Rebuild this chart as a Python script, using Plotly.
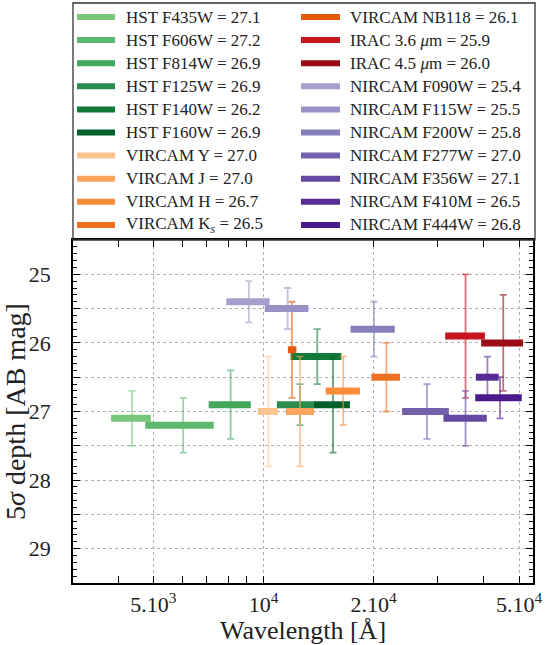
import plotly.graph_objects as go

# Filter names and 5-sigma depths (AB mag)
names = ["HST F435W", "HST F606W", "HST F814W", "HST F125W", "HST F140W", "HST F160W",
         "VIRCAM Y", "VIRCAM J", "VIRCAM H", "VIRCAM K<sub><i>s</i></sub>",
         "VIRCAM NB118", "IRAC 3.6 <i>μ</i>m", "IRAC 4.5 <i>μ</i>m",
         "NIRCAM F090W", "NIRCAM F115W", "NIRCAM F200W", "NIRCAM F277W",
         "NIRCAM F356W", "NIRCAM F410M", "NIRCAM F444W"]
depth = [27.1, 27.2, 26.9, 26.9, 26.2, 26.9,
         27.0, 27.0, 26.7, 26.5,
         26.1, 25.9, 26.0,
         25.4, 25.5, 25.8, 27.0, 27.1, 26.5, 26.8]
depth_err = [0.4, 0.4, 0.5, 0.3, 0.4, 0.7,
             0.8, 0.8, 0.5, 0.5,
             0.7, 0.9, 0.7,
             0.3, 0.3, 0.4, 0.4, 0.4, 0.3, 0.3]

# Filter wavelength coverage (Angstrom): blue edge, red edge, pivot
wave_lo = [3830, 4750, 7080, 10880, 11860, 13740,
           9650, 11510, 14790, 19730,
           11660, 31390, 39380,
           7910, 10080, 17300, 23930, 31050, 38090, 37930]
wave_hi = [4920, 7310, 9230, 13740, 16330, 17230,
           10950, 13740, 18360, 23620,
           12300, 40320, 51240,
           10390, 13260, 22850, 32130, 40800, 43970, 50830]
wave_pivot = [4370, 6030, 8130, 12580, 14030, 15490,
              10320, 12580, 16520, 21680,
              11960, 35690, 45250,
              9120, 11640, 20050, 27990, 35690, 40960, 44330]

colors = ["#78c679", "#5cb86a", "#41a85c", "#2a8c4f", "#117a38", "#00602b",
          "#fdc48f", "#fda45d", "#fd8c3b", "#f07021",
          "#e55a0d", "#c8141e", "#9a0d14",
          "#a59fcc", "#9892c6", "#8580bb", "#7461ab", "#65489f", "#572d95", "#4b1a8a"]

x_tick_vals = [5000, 10000, 20000, 50000]
x_tick_text = ["5.10<sup>3</sup>", "10<sup>4</sup>", "2.10<sup>4</sup>", "5.10<sup>4</sup>"]
x_minor_vals = [3000, 4000, 6000, 7000, 8000, 9000, 30000, 40000]
y_tick_vals = [25, 26, 27, 28, 29]
y_half_vals = [25.5, 26.5, 27.5, 28.5, 29.5]
y_range = [29.5, 24.5]

FONT = "Liberation Serif"
TEXT_COL = "#222"

# figure geometry (px)
W, H = 548, 645
ML, MR, MT, MB = 73, 15, 240, 62
PW, PH = W - ML - MR, H - MT - MB


def rgba(hex_color, alpha):
    h = hex_color.lstrip("#")
    r, g, b = int(h[0:2], 16), int(h[2:4], 16), int(h[4:6], 16)
    return f"rgba({r},{g},{b},{alpha})"


def px_to_paper(px, py):
    return (px - ML) / PW, 1 + (MT - py) / PH


fig = go.Figure()
for i, name in enumerate(names):
    col = colors[i]
    # vertical uncertainty on the depth
    fig.add_trace(go.Scatter(
        x=[wave_pivot[i]], y=[depth[i]], mode="markers",
        marker=dict(color="rgba(0,0,0,0)", size=1),
        error_y=dict(type="data", array=[depth_err[i]], color=rgba(col, 0.6),
                     thickness=1.8, width=3.5),
        showlegend=False, hoverinfo="skip"))
    # horizontal bar spanning the filter band
    fig.add_trace(go.Scatter(
        x=[wave_lo[i], wave_hi[i]], y=[depth[i], depth[i]], mode="lines",
        line=dict(color=col, width=7),
        name=f"{name} = {depth[i]:.1f}", showlegend=False))

# carrier for the overlaid minor-tick axis
fig.add_trace(go.Scatter(x=[None], y=[None], yaxis="y2", showlegend=False,
                         hoverinfo="skip"))

# two-column key above the axes, framed by a box
shapes = []
annotations = []
n_rows = 10
col_x = [(77, 115, 124), (301, 340, 348)]   # swatch start, swatch end, text start
row_y0, row_dy = 17, 23.1
for i, name in enumerate(names):
    c, r = divmod(i, n_rows)
    sx0, sx1, tx = col_x[c]
    yy = row_y0 + r * row_dy
    x0p, yp = px_to_paper(sx0, yy)
    x1p, _ = px_to_paper(sx1, yy)
    txp, _ = px_to_paper(tx, yy)
    shapes.append(dict(type="line", xref="paper", yref="paper", x0=x0p, x1=x1p,
                       y0=yp, y1=yp, line=dict(color=colors[i], width=6)))
    annotations.append(dict(xref="paper", yref="paper", x=txp, y=yp,
                            xanchor="left", yanchor="middle", showarrow=False,
                            text=f"{name} = {depth[i]:.1f}",
                            font=dict(family=FONT, size=17, color=TEXT_COL)))
bx0, by0 = px_to_paper(73, 240)
bx1, by1 = px_to_paper(535, 3)
shapes.append(dict(type="rect", xref="paper", yref="paper", x0=bx0, x1=bx1,
                   y0=by0, y1=by1, line=dict(color="#333", width=1.3)))

grid_style = dict(gridcolor="#b0b0b0", griddash="dot", gridwidth=1)

fig.update_layout(
    width=W, height=H,
    margin=dict(l=ML, r=MR, t=MT, b=MB, autoexpand=False),
    paper_bgcolor="white", plot_bgcolor="white",
    font=dict(family=FONT, color=TEXT_COL),
    showlegend=False,
    shapes=shapes, annotations=annotations,
    xaxis=dict(
        type="log", range=[3.479, 4.737], automargin=False,
        tickvals=x_tick_vals, ticktext=x_tick_text,
        ticks="inside", ticklen=7, tickwidth=1, tickcolor="black",
        showline=True, linecolor="black", linewidth=1.5, mirror="allticks",
        showgrid=True, zeroline=False, **grid_style,
        minor=dict(tickvals=x_minor_vals, ticks="inside", ticklen=4,
                   tickcolor="black", showgrid=False),
        tickfont=dict(family=FONT, size=22, color=TEXT_COL),
        ticklabelstandoff=1,
        title=dict(text="Wavelength [Å]", font=dict(family=FONT, size=26, color=TEXT_COL),
                   standoff=0)),
    yaxis=dict(
        range=y_range, automargin=False,
        tickvals=y_tick_vals,
        ticks="inside", ticklen=7, tickwidth=1, tickcolor="black",
        showline=True, linecolor="black", linewidth=1.5, mirror="allticks",
        showgrid=True, zeroline=False, **grid_style,
        minor=dict(tickvals=y_half_vals, ticks="inside", ticklen=7,
                   tickcolor="black", showgrid=True, **grid_style),
        tickfont=dict(family=FONT, size=22, color=TEXT_COL),
        ticklabelstandoff=16,
        title=dict(text="5<i>σ</i> depth [AB mag]", font=dict(family=FONT, size=28, color=TEXT_COL),
                   standoff=4)),
    yaxis2=dict(
        overlaying="y", range=y_range, dtick=0.1, tick0=25, automargin=False,
        ticks="inside", ticklen=4, tickwidth=1, tickcolor="black",
        showticklabels=False, showgrid=False, zeroline=False,
        showline=False, mirror="allticks", side="left"),
)

fig.write_html("out.html", config={"displayModeBar": False})
